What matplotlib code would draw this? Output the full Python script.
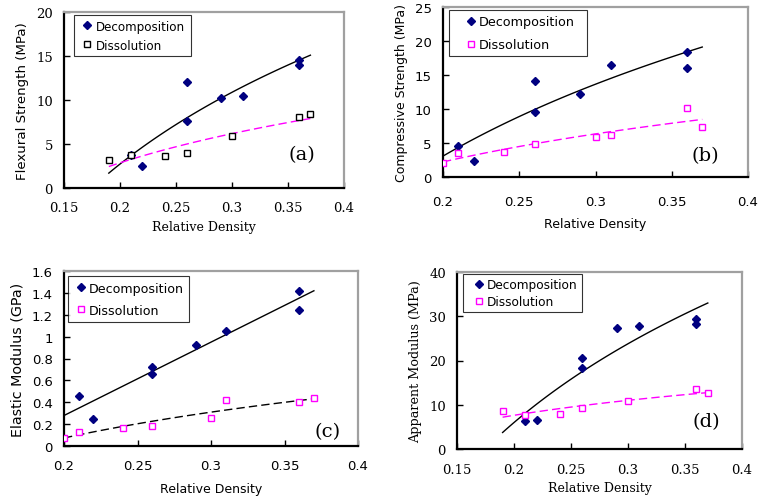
import numpy as np
import matplotlib
matplotlib.use("Agg")
import matplotlib.pyplot as plt

# Relative density values shared by the decomposition samples
dec_x = [0.21, 0.22, 0.26, 0.26, 0.29, 0.31, 0.36, 0.36]

# (a) Flexural strength (MPa)
a_dec_y = [3.7, 2.45, 12.1, 7.65, 10.25, 10.5, 14.5, 14.0]
a_dis_x = [0.19, 0.21, 0.24, 0.26, 0.30, 0.36, 0.37]
a_dis_y = [3.15, 3.7, 3.65, 3.95, 5.9, 8.05, 8.4]

# (b) Compressive strength (MPa)
b_dec_y = [4.6, 2.4, 14.1, 9.55, 12.2, 16.5, 18.45, 16.0]
b_dis_x = [0.20, 0.21, 0.24, 0.26, 0.30, 0.31, 0.36, 0.37]
b_dis_y = [2.05, 3.5, 3.65, 4.8, 5.9, 6.15, 10.1, 7.4]

# (c) Elastic modulus (GPa)
c_dec_y = [0.46, 0.245, 0.72, 0.66, 0.925, 1.05, 1.42, 1.245]
c_dis_x = [0.20, 0.21, 0.24, 0.26, 0.30, 0.31, 0.36, 0.37]
c_dis_y = [0.076, 0.128, 0.162, 0.185, 0.26, 0.42, 0.40, 0.435]

# (d) Apparent modulus (MPa)
d_dec_y = [6.4, 6.6, 20.5, 18.3, 27.3, 27.7, 29.4, 28.2]
d_dis_x = [0.19, 0.21, 0.24, 0.26, 0.30, 0.36, 0.37]
d_dis_y = [8.6, 7.7, 7.9, 9.2, 10.8, 13.5, 12.7]

NAVY = "#000080"
MAGENTA = "#FF00FF"
SANS = "DejaVu Sans"
SERIF = "DejaVu Serif"


def trend(x, y, kind, xmin, xmax):
    # Excel style trendline: logarithmic or linear fit over the panel x range
    xs = np.linspace(xmin, xmax, 60)
    x = np.asarray(x)
    if kind == "log":
        k, b = np.polyfit(np.log(x), y, 1)
        return xs, k * np.log(xs) + b
    k, b = np.polyfit(x, y, 1)
    return xs, k * xs + b


def panel(rect, dis_x, dec_y, dis_y, xlim, ylim, xticks, yticks, ylabel, tag,
          tagpos, fonts, dis_color, fits, dis_line, st):
    tickfont, yfont, xfont = fonts
    ax = fig.add_axes(rect)
    x_all = list(dec_x) + list(dis_x)
    lo, hi = min(x_all), max(x_all)

    fx, fy = trend(dec_x, dec_y, fits[0], lo, hi)
    ax.plot(fx, fy, color="black", lw=1.0, zorder=2)
    fx, fy = trend(dis_x, dis_y, fits[1], lo, hi)
    ax.plot(fx, fy, color=dis_line, lw=1.0, ls=(0, (6, 3)), zorder=2)

    ax.plot(dec_x, dec_y, ls="none", marker="D", ms=4.4, color=NAVY,
            mec=NAVY, label="Decomposition", zorder=3)
    ax.plot(dis_x, dis_y, ls="none", marker="s", ms=4.7, mfc="white",
            mec=dis_color, mew=1.0, label="Dissolution", zorder=3)

    ax.set_xlim(*xlim)
    ax.set_ylim(*ylim)
    ax.set_xticks(xticks)
    ax.set_yticks(yticks)
    ax.set_xticklabels([("%g" % t) for t in xticks], family=tickfont, fontsize=9.5)
    ax.set_yticklabels([("%g" % t) for t in yticks], family=tickfont, fontsize=9.5)
    ax.tick_params(direction="in", length=4, width=1)
    ax.tick_params(axis="x", pad=st["xpad"])
    ax.tick_params(axis="y", pad=8)
    ax.set_xlabel("Relative Density", family=xfont, fontsize=9, labelpad=st["xlp"])
    ax.set_ylabel(ylabel, family=yfont, fontsize=st["ylsize"], labelpad=5)

    for s in ("left", "bottom"):
        ax.spines[s].set_color("black")
        ax.spines[s].set_linewidth(1.6)
    for s in ("top", "right"):
        ax.spines[s].set_color("#a0a0a0")
        ax.spines[s].set_linewidth(1.6)

    ax.text(tagpos[0], tagpos[1], tag, transform=ax.transAxes,
            family=SERIF, fontsize=14, ha="center", va="center")

    x0, y1, w = st["leg"]
    leg = ax.legend(loc="upper left", bbox_to_anchor=(x0, y1, w, 0), mode="expand",
                    frameon=True, fancybox=False, borderpad=st["bp"],
                    handletextpad=st["htp"], handlelength=st["hl"],
                    labelspacing=st["ls"], prop={"family": SANS, "size": st["lsize"]},
                    borderaxespad=0)
    leg.get_frame().set_edgecolor("black")
    leg.get_frame().set_linewidth(0.8)
    return ax


fig = plt.figure(figsize=(7.6, 5.02), dpi=100)

panel([64 / 760, 1 - 189 / 502, 280 / 760, 176 / 502], a_dis_x, a_dec_y, a_dis_y,
      (0.15, 0.4), (0, 20), [0.15, 0.2, 0.25, 0.3, 0.35, 0.4], [0, 5, 10, 15, 20],
      "Flexural Strength (MPa)", "(a)", (0.85, 0.19), (SERIF, SANS, SERIF),
      "black", ("log", "log"), MAGENTA,
      dict(xpad=9, xlp=5, ylsize=9.6, leg=(0.036, 0.983, 0.418),
           bp=0.38, htp=0.0, hl=1.43, ls=0.5, lsize=8.6))

panel([443 / 760, 1 - 178 / 502, 305 / 760, 170 / 502], b_dis_x, b_dec_y, b_dis_y,
      (0.2, 0.4), (0, 25), [0.2, 0.25, 0.3, 0.35, 0.4], [0, 5, 10, 15, 20, 25],
      "Compressive Strength (MPa)", "(b)", (0.86, 0.13), (SANS, SANS, SANS),
      MAGENTA, ("log", "log"), MAGENTA,
      dict(xpad=13, xlp=6.5, ylsize=9, leg=(0.020, 0.982, 0.452),
           bp=0.39, htp=-0.7, hl=2.65, ls=0.79, lsize=9.2))

panel([64 / 760, 1 - 447 / 502, 294 / 760, 175 / 502], c_dis_x, c_dec_y, c_dis_y,
      (0.2, 0.4), (0, 1.6), [0.2, 0.25, 0.3, 0.35, 0.4],
      [0, 0.2, 0.4, 0.6, 0.8, 1.0, 1.2, 1.4, 1.6],
      "Elastic Modulus (GPa)", "(c)", (0.895, 0.086), (SANS, SANS, SANS),
      MAGENTA, ("linear", "log"), "black",
      dict(xpad=9.5, xlp=7, ylsize=10.3, leg=(0.014, 0.971, 0.412),
           bp=0.43, htp=0.04, hl=1.2, ls=0.73, lsize=9.1))

panel([457 / 760, 1 - 450 / 502, 285 / 760, 177 / 502], d_dis_x, d_dec_y, d_dis_y,
      (0.15, 0.4), (0, 40), [0.15, 0.2, 0.25, 0.3, 0.35, 0.4], [0, 10, 20, 30, 40],
      "Apparent Modulus (MPa)", "(d)", (0.874, 0.158), (SERIF, SERIF, SERIF),
      MAGENTA, ("log", "log"), MAGENTA,
      dict(xpad=10, xlp=4, ylsize=9.2, leg=(0.021, 0.989, 0.418),
           bp=0.36, htp=-0.32, hl=1.92, ls=0.29, lsize=8.7))

fig.savefig("out.png", dpi=100)
